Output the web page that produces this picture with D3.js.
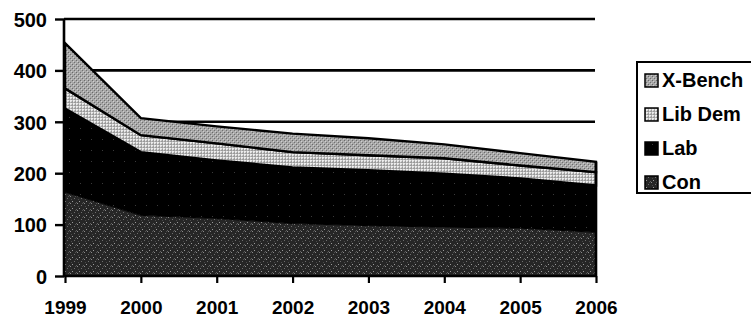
<!DOCTYPE html>
<html>
<head>
<meta charset="utf-8">
<script src="https://cdn.jsdelivr.net/npm/d3@7"></script>
<style>
  html, body { margin: 0; padding: 0; background: #fff; }
  svg { display: block; }
  text { font-family: "Liberation Sans", Arial, Helvetica, sans-serif; font-weight: bold; fill: #000; }
</style>
</head>
<body>
<svg id="chart" width="751" height="324"></svg>
<script>
// Years on the x axis
const years = [1999, 2000, 2001, 2002, 2003, 2004, 2005, 2006];
// Members per group, stacked bottom to top
const con    = [163, 118, 112, 102, 98, 95, 93, 85];
const lab    = [163, 123, 113, 109, 108, 104, 97, 91];
const libDem = [39, 33, 33, 30, 29, 30, 25, 26];
const xBench = [88, 33, 33, 36, 33, 27, 24, 20];
// Axis ticks
const yTicks = [0, 100, 200, 300, 400, 500];
const gridTicks = [300, 400, 500];

const seriesKeys = ["Con", "Lab", "Lib Dem", "X-Bench"];
const seriesValues = { "Con": con, "Lab": lab, "Lib Dem": libDem, "X-Bench": xBench };
const legendOrder = ["X-Bench", "Lib Dem", "Lab", "Con"];

const rows = years.map((y, i) => {
  const r = { year: y };
  seriesKeys.forEach(k => { r[k] = seriesValues[k][i]; });
  return r;
});

const svg = d3.select("#chart");

// Stipple / screen textures
const defs = svg.append("defs");
function pattern(id, bg, dots, size) {
  const p = defs.append("pattern").attr("id", id)
    .attr("patternUnits", "userSpaceOnUse").attr("width", size).attr("height", size);
  p.append("rect").attr("width", size).attr("height", size).attr("fill", bg);
  dots.forEach(([x, y, c]) => p.append("rect").attr("x", x).attr("y", y)
    .attr("width", 1).attr("height", 1).attr("fill", c));
}
pattern("pCon", "#262626",
  [[0,0,"#8a8a8a"],[4,2,"#6e6e6e"],[2,5,"#9a9a9a"],[6,6,"#5e5e5e"],[1,3,"#4a4a4a"],[5,0,"#505050"]], 7);
pattern("pLab", "#000",
  [[3,7,"#3a3a3a"]], 11);
pattern("pLib", "#ececec",
  [[0,0,"#9a9a9a"],[1,0,"#b8b8b8"],[2,0,"#9a9a9a"],[0,1,"#b8b8b8"],[0,2,"#9a9a9a"],[2,2,"#c8c8c8"]], 3);
pattern("pXB", "#a8a8a8",
  [[0,0,"#6a6a6a"],[2,2,"#707070"],[1,1,"#d0d0d0"],[3,3,"#cccccc"]], 4);
const fills = { "Con": "url(#pCon)", "Lab": "url(#pLab)", "Lib Dem": "url(#pLib)", "X-Bench": "url(#pXB)" };

const x = d3.scaleLinear().domain([years[0], years[years.length - 1]]).range([65, 596]);
const y = d3.scaleLinear().domain([0, 500]).range([276, 19]);

// Gridlines
svg.append("g").selectAll("line").data(gridTicks).join("line")
  .attr("x1", 64).attr("x2", 595)
  .attr("y1", d => y(d)).attr("y2", d => y(d))
  .attr("stroke", "#000").attr("stroke-width", 2.6);

// Stacked areas
const stack = d3.stack().keys(seriesKeys);
const layers = stack(rows);
const area = d3.area()
  .x(d => x(d.data.year))
  .y0(d => y(d[0]))
  .y1(d => y(d[1]));

svg.append("g").selectAll("path").data(layers).join("path")
  .attr("d", area)
  .attr("fill", d => fills[d.key])
  .attr("stroke", d => d.key === "Con" ? "none" : "#000")
  .attr("stroke-width", d => d.key === "Lab" ? 1 : 2.4)
  .attr("stroke-linejoin", "miter");

// Right edge of the stack
const topStack = layers[layers.length - 1];
const last = topStack[topStack.length - 1];
svg.append("line")
  .attr("x1", x(last.data.year)).attr("x2", x(last.data.year))
  .attr("y1", y(last[1])).attr("y2", y(0))
  .attr("stroke", "#000").attr("stroke-width", 2.6);

// Y axis
const yAxis = svg.append("g").attr("transform", "translate(64,0)")
  .call(d3.axisLeft(y).tickValues(yTicks).tickSize(9).tickPadding(8).tickFormat(d3.format("d")));
yAxis.select(".domain").attr("d", `M0,${y(500)}V${y(0)}`).attr("stroke-width", 2.6);
yAxis.selectAll(".tick line").attr("stroke-width", 2.4);
yAxis.selectAll("text").style("font-size", "20px").attr("dy", "0.36em").attr("fill", "#000");

// X axis
const xAxis = svg.append("g").attr("transform", `translate(0,${y(0)})`)
  .call(d3.axisBottom(x).tickValues(years).tickSize(7).tickPadding(18).tickFormat(d3.format("d")));
xAxis.select(".domain").attr("d", `M64,0H${x(2006)}`).attr("stroke-width", 2.6);
xAxis.selectAll(".tick line").attr("stroke-width", 2.2);
xAxis.selectAll("text").style("font-size", "19px").attr("fill", "#000");

// Legend
const lg = svg.append("g");
lg.append("rect").attr("x", 637).attr("y", 62).attr("width", 130).attr("height", 131)
  .attr("fill", "#fff").attr("stroke", "#000").attr("stroke-width", 2);
const ly = d3.scalePoint().domain(legendOrder).range([80, 182]);
const item = lg.selectAll("g.item").data(legendOrder).join("g").attr("class", "item")
  .attr("transform", d => `translate(0,${ly(d)})`);
item.append("rect").attr("x", 645).attr("y", -6).attr("width", 13).attr("height", 13)
  .attr("fill", d => fills[d]).attr("stroke", "#000").attr("stroke-width", 1.5);
item.append("text").attr("x", 662).attr("y", 0).attr("dy", "0.36em")
  .style("font-size", "20px").text(d => d);
</script>
</body>
</html>
